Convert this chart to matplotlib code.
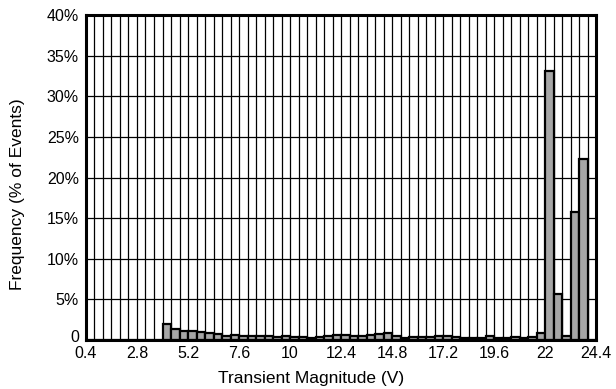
import numpy as np
import matplotlib.pyplot as plt
from matplotlib.ticker import FuncFormatter
from matplotlib.transforms import ScaledTranslation

plt.rcParams['font.family'] = ['Liberation Sans', 'DejaVu Sans']

# bins of 0.4 V from 0.4 to 24.4
bin_left = np.round(np.arange(0.4, 24.4, 0.4), 1)
freq = [0, 0, 0, 0, 0, 0, 0, 0, 0,
        2.0, 1.3, 1.15, 1.1, 1.0, 0.85, 0.75, 0.55, 0.6, 0.45,
        0.55, 0.45, 0.45, 0.35, 0.45, 0.4, 0.35, 0.3, 0.35, 0.45,
        0.6, 0.6, 0.55, 0.5, 0.6, 0.7, 0.85, 0.45, 0.3, 0.35,
        0.4, 0.35, 0.5, 0.5, 0.35, 0.3, 0.3, 0.3, 0.45, 0.3,
        0.3, 0.4, 0.3, 0.35, 0.8, 33.1, 5.7, 0.45, 15.8, 22.3, 0]
xticks = [0.4, 2.8, 5.2, 7.6, 10, 12.4, 14.8, 17.2, 19.6, 22, 24.4]
xtick_labels = ['0.4', '2.8', '5.2', '7.6', '10', '12.4', '14.8', '17.2', '19.6', '22', '24.4']

fig = plt.figure(figsize=(6.16, 3.89), dpi=100)
ax = fig.add_axes([0.1396, 0.126, 0.828, 0.835])

ax.bar(bin_left, freq, width=0.4, align='edge', color='#a6a6a6',
       edgecolor='black', linewidth=1.6, zorder=3)

ax.set_xlim(0.4, 24.4)
ax.set_ylim(0, 40)
ax.set_xticks(xticks)
ax.set_xticklabels(xtick_labels)
ax.set_xticks(np.arange(0.4, 24.41, 0.4), minor=True)
ax.set_yticks(np.arange(0, 41, 5))
ax.yaxis.set_major_formatter(FuncFormatter(lambda v, p: '0' if v == 0 else f'{v:.0f}%'))

ax.grid(True, which='both', axis='x', color='black', linewidth=0.9, zorder=1)
ax.grid(True, which='major', axis='y', color='black', linewidth=0.9, zorder=1)
ax.tick_params(which='both', length=0, labelsize=11.5)
ax.tick_params(axis='x', pad=4)
ax.tick_params(axis='y', pad=5)

# nudge the "0" label up so it clears "0.4"
fig.canvas.draw()
ylab0 = ax.get_yticklabels()[0]
ylab0.set_transform(ylab0.get_transform() + ScaledTranslation(0, 4 / 100, fig.dpi_scale_trans))

for s in ax.spines.values():
    s.set_linewidth(2.2)
    s.set_zorder(5)

fig.text(311 / 616, 1 - 379 / 389, 'Transient Magnitude (V)', fontsize=12.5,
         ha='center', va='center')
fig.text(18 / 616, 0.5, 'Frequency (% of Events)', fontsize=12.5,
         ha='center', va='center', rotation=90)

plt.savefig('out.png', dpi=100)
